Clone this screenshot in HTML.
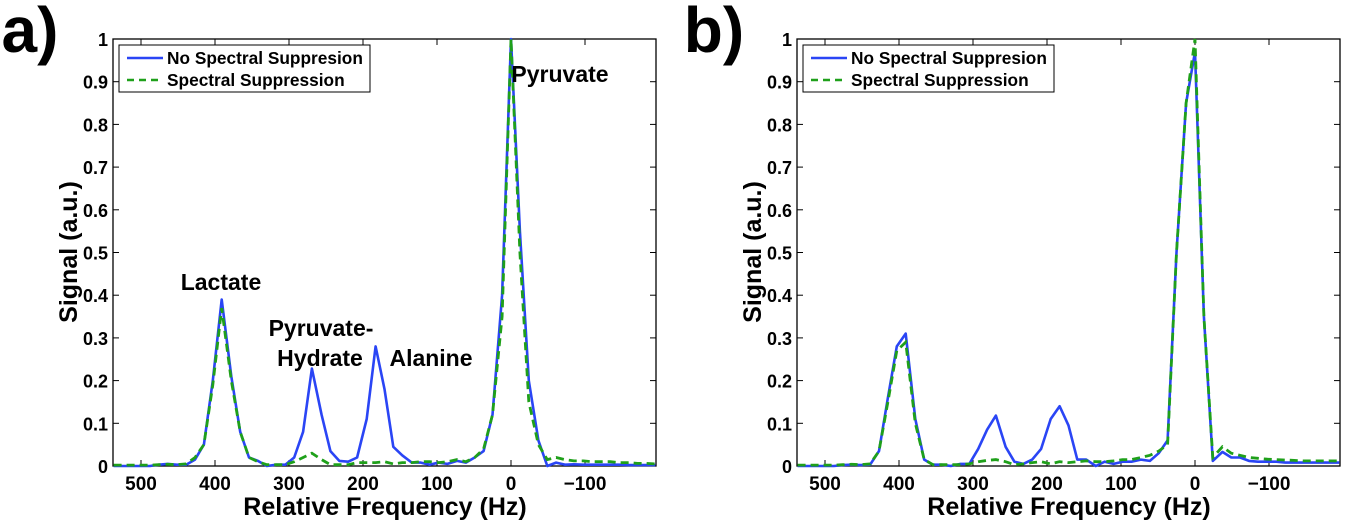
<!DOCTYPE html>
<html><head><meta charset="utf-8"><style>
body{margin:0;background:#fff}
svg text{font-family:"Liberation Sans",Arial,sans-serif;font-weight:bold}
</style></head><body>
<svg id="c" width="1359" height="525" xmlns="http://www.w3.org/2000/svg"></svg>
<script>
const freqs=[537,525,512,500,488,476,464,452,439,427,415,403,391,378,366,354,342,330,317,305,293,281,269,256,244,232,220,208,195,183,171,159,147,134,122,110,98,86,73,61,49,37,25,12,0,-12,-24,-37,-49,-61,-73,-85,-98,-110,-122,-134,-146,-159,-171,-183,-195];
const aBlue=[0,0,0,0,0,0.003,0.005,0.003,0.003,0.015,0.05,0.2,0.39,0.21,0.08,0.02,0.012,0,0.003,0.003,0.02,0.08,0.228,0.12,0.035,0.012,0.01,0.02,0.11,0.28,0.18,0.045,0.025,0.008,0.008,0.003,0.008,0.005,0.012,0.008,0.02,0.035,0.12,0.4,1.0,0.55,0.2,0.06,0,0.008,0.003,0.004,0.003,0.003,0.003,0.003,0.003,0.002,0.002,0.002,0.002];
const aGreen=[0.002,0.002,0.002,0.002,0.002,0.003,0.004,0.003,0.005,0.02,0.05,0.19,0.37,0.2,0.08,0.02,0.01,0.003,0.003,0.003,0.01,0.02,0.03,0.015,0.003,0.003,0.003,0.008,0.008,0.008,0.01,0.005,0.008,0.008,0.01,0.01,0.008,0.01,0.015,0.01,0.02,0.04,0.12,0.35,1.0,0.5,0.15,0.05,0.015,0.02,0.015,0.012,0.012,0.01,0.01,0.01,0.008,0.008,0.006,0.006,0.005];
const bBlue=[0,0,0,0,0,0.002,0.003,0.002,0.003,0.035,0.16,0.28,0.31,0.11,0.015,0.003,0.003,0,0.005,0.005,0.04,0.085,0.118,0.045,0.01,0.005,0.015,0.04,0.11,0.14,0.095,0.015,0.015,0,0.01,0.005,0.01,0.01,0.015,0.012,0.03,0.06,0.5,0.85,0.97,0.35,0.012,0.033,0.02,0.02,0.012,0.01,0.01,0.01,0.008,0.008,0.008,0.008,0.008,0.008,0.008];
const bGreen=[0.002,0.002,0.002,0.002,0.002,0.003,0.004,0.003,0.005,0.035,0.15,0.27,0.29,0.1,0.015,0.003,0.003,0.003,0.003,0.005,0.01,0.013,0.015,0.01,0.003,0.005,0.008,0.01,0.005,0.01,0.008,0.01,0.012,0.01,0.01,0.012,0.015,0.015,0.02,0.025,0.035,0.05,0.5,0.85,1.0,0.35,0.02,0.045,0.03,0.025,0.02,0.018,0.016,0.015,0.014,0.013,0.012,0.012,0.012,0.012,0.012];
const xTicks=[500,400,300,200,100,0,-100];
const yTicks=[0,0.1,0.2,0.3,0.4,0.5,0.6,0.7,0.8,0.9,1];
const svg=document.getElementById('c');
const NS='http://www.w3.org/2000/svg';
function mk(tag,attrs,parent){const e=document.createElementNS(NS,tag);for(const k in attrs)e.setAttribute(k,attrs[k]);(parent||svg).appendChild(e);return e;}
function txt(s,x,y,size,anchor,parent){const t=mk('text',{x:x,y:y,'font-size':size,'text-anchor':anchor||'middle'},parent);t.textContent=s;return t;}
function panel(ox,blue,green,letter,annot){
  const g=mk('g',{});
  
  
  const L=113+ox,R=656+ox,T=39,B=466;
  const X=f=>511+ox-0.74*f, Y=v=>B-427*v;
  const pl=txt(letter+')',ox+30,52,64,'middle',g);
  
  
  const box=mk('rect',{x:L,y:T,width:R-L,height:B-T,fill:'none',stroke:'#000','stroke-width':1.3},g);
  
  
  xTicks.forEach(f=>{const x=X(f);
    mk('line',{x1:x,x2:x,y1:B,y2:B-6,stroke:'#000'},g);mk('line',{x1:x,x2:x,y1:T,y2:T+6,stroke:'#000'},g);
    const t=txt(f<0?'\u2212'+(-f):String(f),x,490,19,'middle',g);
    
    });
  yTicks.forEach(v=>{const y=Y(v);
    mk('line',{x1:L,x2:L+6,y1:y,y2:y,stroke:'#000'},g);mk('line',{x1:R,x2:R-6,y1:y,y2:y,stroke:'#000'},g);
    const t=txt(String(v),L-5,y+7,18,'end',g);
    
    });
  const xt=txt('Relative Frequency (Hz)',385+ox,515,25,'middle',g);
  
  
  const yt=txt('Signal (a.u.)',0,0,25,'middle',g);
  yt.setAttribute('transform','translate('+(77+ox)+',252) rotate(-90)');
  
  
  const pts=arr=>arr.map((v,i)=>X(freqs[i]).toFixed(1)+','+Y(v).toFixed(1)).join(' ');
  const lb=mk('polyline',{points:pts(blue),fill:'none',stroke:'#2a45f5','stroke-width':2.6,'stroke-linejoin':'round'},g);
  
  
  const lg=mk('polyline',{points:pts(green),fill:'none',stroke:'#1fa01a','stroke-width':2.8,'stroke-dasharray':'8,5'},g);
  
  
  const leg=mk('g',{},g);
  
  
  mk('rect',{x:L+6,y:45,width:251,height:47,fill:'#fff',stroke:'#000','stroke-width':1},leg);
  mk('line',{x1:L+14,x2:L+50,y1:58,y2:58,stroke:'#2a45f5','stroke-width':2.6},leg);
  mk('line',{x1:L+14,x2:L+50,y1:80,y2:80,stroke:'#1fa01a','stroke-width':2.6,'stroke-dasharray':'7,5'},leg);
  const e1=txt('No Spectral Suppresion',L+54,64,17.3,'start',leg);
  
  
  const e2=txt('Spectral Suppression',L+54,86,17.3,'start',leg);
  
  
  if(annot){
    [['Lactate',221,290],['Pyruvate-',321,336],['Hydrate',320,366],['Alanine',431,366],['Pyruvate',560,82]].forEach(a=>{
      const t=txt(a[0],a[1],a[2],23,'middle',g);
      
      });
  }
}
panel(0,aBlue,aGreen,'a',true);
panel(684,bBlue,bGreen,'b',false);
</script>
</body></html>
